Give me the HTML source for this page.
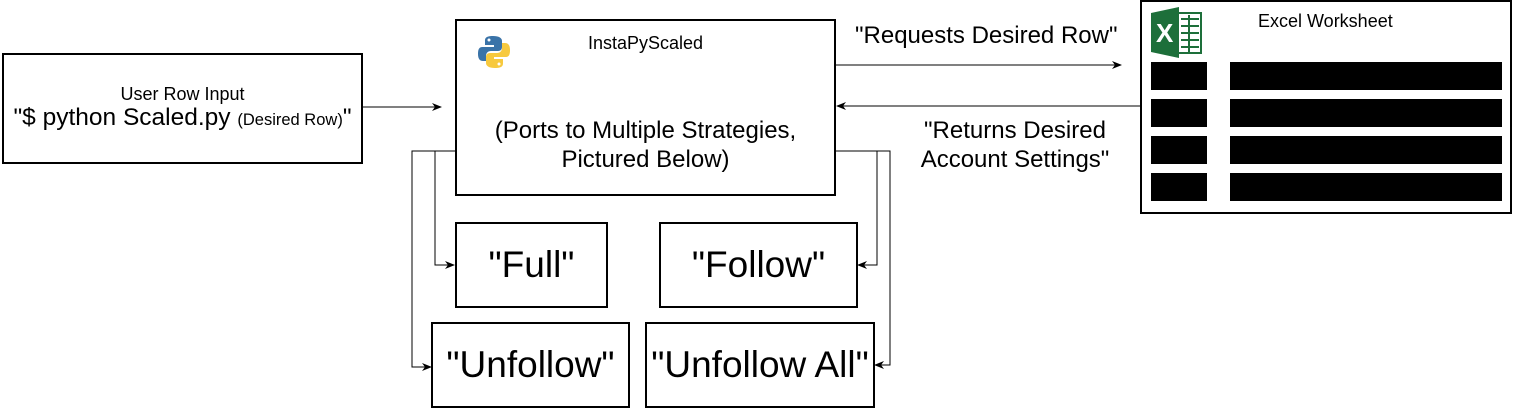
<!DOCTYPE html>
<html><head><style>
body{margin:0;width:1513px;height:409px;background:#fff;overflow:hidden;position:relative;font-family:"Liberation Sans",Arial,sans-serif;color:#000}
.b{position:absolute;border:2px solid #000;box-sizing:border-box;background:#fff}
.t{position:absolute;white-space:nowrap}
.big{display:flex;align-items:center;justify-content:center;font-size:37px}
.bar{position:absolute;background:#000}
</style></head><body>
<svg width="1513" height="409" style="position:absolute;left:0;top:0">
<defs><marker id="a" markerWidth="10" markerHeight="8" refX="9" refY="4" orient="auto" markerUnits="userSpaceOnUse"><path d="M0,0 L10,4 L0,8 L3,4z" fill="#000"/></marker></defs>
<g stroke="#000" stroke-width="1" fill="none">
<path d="M362,107 H441" marker-end="url(#a)"/>
<path d="M835,65 H1121" marker-end="url(#a)"/>
<path d="M1141,106 H837" marker-end="url(#a)"/>
<path d="M455,151 H435 V265 H454" marker-end="url(#a)"/>
<path d="M455,151 H412 V367 H431" marker-end="url(#a)"/>
<path d="M835,151 H877 V265 H858" marker-end="url(#a)"/>
<path d="M835,151 H890 V365 H875" marker-end="url(#a)"/>
</g></svg>
<div class="b" style="left:2px;top:53px;width:361px;height:111px"></div>
<div class="t" style="left:0;width:365px;text-align:center;top:84px;font-size:18px">User Row Input</div>
<div class="t" style="left:0;width:365px;text-align:center;top:104px;font-size:24.5px">"$ python Scaled.py <span style="font-size:16.5px">(Desired Row)</span>"</div>
<div class="b" style="left:455px;top:19px;width:381px;height:177px"></div>
<svg style="position:absolute;left:477px;top:35px" width="34" height="34" viewBox="0 0 34 34"><path d="M16,1 C8,1 8,4 8,6 V10 H17 V12 H5 C1,12 1,17 1,19 C1,24 3,26 6,26 H9 V21 C9,18 11,16 14,16 H21 C24,16 25,14 25,12 V6 C25,3 22,1 16,1z" fill="#3a73a8"/><path d="M18,33 C26,33 26,30 26,28 V24 H17 V22 H29 C33,22 33,17 33,15 C33,10 31,8 28,8 H25 V13 C25,16 23,18 20,18 H13 C10,18 9,20 9,22 V28 C9,31 12,33 18,33z" fill="#f7c93e"/><circle cx="12" cy="5" r="1.5" fill="#fff"/><circle cx="22" cy="29" r="1.5" fill="#fff"/></svg>
<div class="t" style="left:455px;width:381px;text-align:center;top:33px;font-size:18px">InstaPyScaled</div>
<div class="t" style="left:455px;width:381px;text-align:center;top:116px;font-size:24px;line-height:29px">(Ports to Multiple Strategies,<br>Pictured Below)</div>
<div class="t" style="left:855px;top:22px;font-size:24px">"Requests Desired Row"</div>
<div class="t" style="left:915px;width:200px;top:116px;font-size:24px;text-align:center;line-height:29px">"Returns Desired<br>Account Settings"</div>
<div class="b big" style="left:455px;top:222px;width:153px;height:86px">"Full"</div>
<div class="b big" style="left:659px;top:222px;width:199px;height:86px">"Follow"</div>
<div class="b big" style="left:431px;top:322px;width:199px;height:86px">"Unfollow"</div>
<div class="b big" style="left:645px;top:322px;width:230px;height:86px">"Unfollow All"</div>
<div class="b" style="left:1140px;top:0;width:372px;height:214px"></div>
<svg style="position:absolute;left:1151px;top:7px" width="52" height="51" viewBox="0 0 52 51"><rect x="18" y="6" width="32" height="40" fill="#fff" stroke="#1d6f3a" stroke-width="2"/><g stroke="#1d6f3a" stroke-width="2"><path d="M30,12 H48 M30,19 H48 M30,26 H48 M30,33 H48 M30,40 H48 M38,8 V46"/></g><path d="M0,6 L28,0 V51 L0,45z" fill="#1d6f3a"/><text x="5" y="35" font-family="Liberation Sans" font-weight="bold" font-size="26" fill="#fff">X</text></svg>
<div class="t" style="left:1258px;top:11px;font-size:18px">Excel Worksheet</div>
<div class="bar" style="left:1151px;top:62px;width:56px;height:28px"></div>
<div class="bar" style="left:1230px;top:62px;width:272px;height:28px"></div>
<div class="bar" style="left:1151px;top:99px;width:56px;height:28px"></div>
<div class="bar" style="left:1230px;top:99px;width:272px;height:28px"></div>
<div class="bar" style="left:1151px;top:136px;width:56px;height:28px"></div>
<div class="bar" style="left:1230px;top:136px;width:272px;height:28px"></div>
<div class="bar" style="left:1151px;top:173px;width:56px;height:28px"></div>
<div class="bar" style="left:1230px;top:173px;width:272px;height:28px"></div>
</body></html>
